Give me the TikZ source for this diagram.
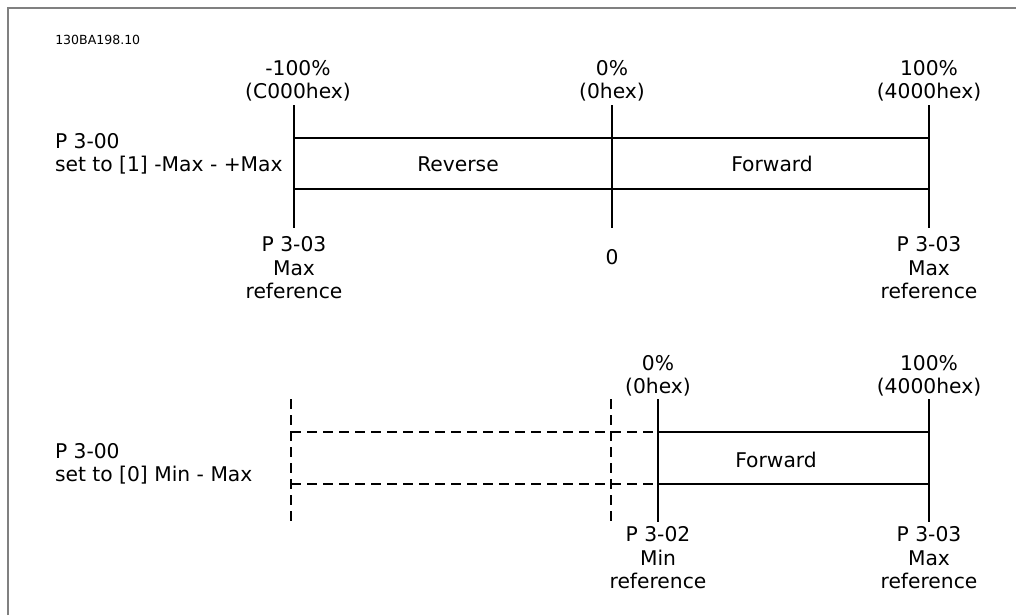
\documentclass[tikz,border=0pt]{standalone}
\usepackage{fontspec}
\setmainfont{DejaVu Sans}
\begin{document}
\begin{tikzpicture}[x=0.75pt,y=-0.75pt,
  lbl/.style={inner sep=0pt, outer sep=0pt, align=center, font=\fontsize{15.2}{17.7}\selectfont},
  lbll/.style={lbl, align=left, anchor=west},
  tiny/.style={inner sep=0pt, anchor=west, font=\fontsize{9.4}{11}\selectfont},
  axis/.style={line width=0.9pt, black},
  dsh/.style={line width=0.9pt, black, dash pattern=on 7.5pt off 4.5pt},
  frame/.style={line width=1.3pt, gray}]
\useasboundingbox (0,0) rectangle (1016,615);
% frame
\coordinate (fa) at (8,615);
\coordinate (fb) at (8,8);
\coordinate (fc) at (1016,8);
\draw[frame] (fa) -- (fb) -- (fc);
\node[tiny] (code) at (55,40) {130BA198.10};

% ---------- top section ----------
\coordinate (a1) at (294,105); \coordinate (a2) at (294,228);
\coordinate (b1) at (612,105); \coordinate (b2) at (612,228);
\coordinate (c1) at (929,105); \coordinate (c2) at (929,228);
\coordinate (rtl) at (294,138); \coordinate (rbr) at (929,189);
\draw[axis] (a1) -- (a2);
\draw[axis] (b1) -- (b2);
\draw[axis] (c1) -- (c2);
\draw[axis] (rtl) rectangle (rbr);

\node[lbl] (tl) at (298,81) {-100\%\\(C000hex)};
\node[lbl] (tm) at (612,81) {0\%\\(0hex)};
\node[lbl] (tr) at (929,81) {100\%\\(4000hex)};
\node[lbl] (rev) at (458,164) {Reverse};
\node[lbl] (fwd1) at (772,164) {Forward};
\node[lbll] (p1) at (55,154) {P 3-00\\set to [1] -Max - +Max};
\node[lbl] (bl) at (294,268) {P 3-03\\Max\\reference};
\node[lbl] (bm) at (612,257) {0};
\node[lbl] (br) at (929,268) {P 3-03\\Max\\reference};

% ---------- bottom section ----------
\coordinate (d1) at (291,399); \coordinate (d2) at (291,522);
\coordinate (e1) at (611,399); \coordinate (e2) at (611,522);
\coordinate (f1) at (658,399); \coordinate (f2) at (658,522);
\coordinate (g1) at (929,399); \coordinate (g2) at (929,522);
\coordinate (h1) at (291,432); \coordinate (h2) at (658,432);
\coordinate (k1) at (291,484); \coordinate (k2) at (658,484);
\coordinate (stl) at (658,432); \coordinate (sbr) at (929,484);
\draw[dsh] (d1) -- (d2);
\draw[dsh] (e1) -- (e2);
\draw[dsh] (h1) -- (h2);
\draw[dsh] (k1) -- (k2);
\draw[axis] (f1) -- (f2);
\draw[axis] (g1) -- (g2);
\draw[axis] (stl) rectangle (sbr);

\node[lbl] (ul) at (658,376) {0\%\\(0hex)};
\node[lbl] (ur) at (929,376) {100\%\\(4000hex)};
\node[lbl] (fwd2) at (776,460) {Forward};
\node[lbll] (p2) at (55,464) {P 3-00\\set to [0] Min - Max};
\node[lbl] (ll) at (658,558) {P 3-02\\Min\\reference};
\node[lbl] (lr) at (929,558) {P 3-03\\Max\\reference};
\end{tikzpicture}
\end{document}
